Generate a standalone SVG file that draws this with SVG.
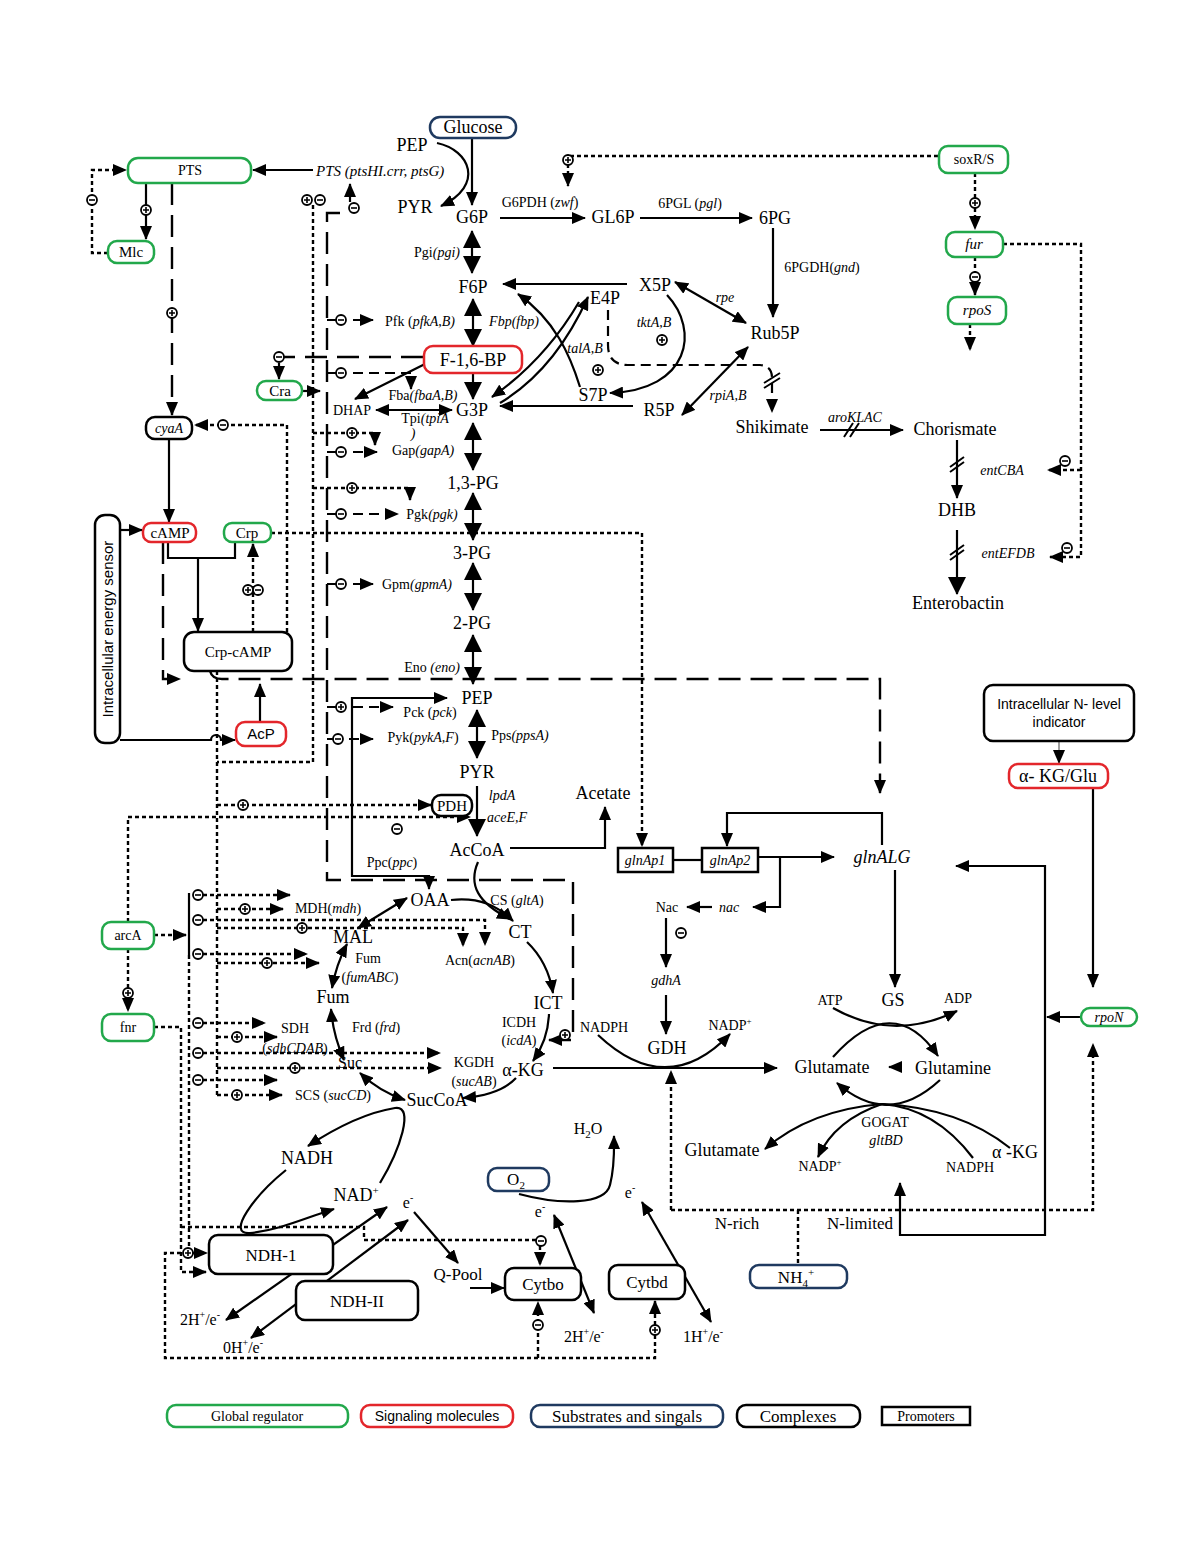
<svg xmlns="http://www.w3.org/2000/svg" xmlns:xlink="http://www.w3.org/1999/xlink" width="1200" height="1553" viewBox="0 0 1200 1553">
<style>
.l{fill:none;stroke:#000;stroke-width:2.2}
.ld{stroke-dasharray:22 10;stroke-width:2.4}
.lm{stroke-dasharray:10 6}
.lo{stroke-dasharray:4 3;stroke-width:2.4}
.ea{marker-end:url(#a)}
.sa{marker-start:url(#a)}
.eb{marker-end:url(#b)}
.sb{marker-start:url(#b)}
text{font-family:"Liberation Serif","Times New Roman",serif;fill:#000}
.t{font-size:18px;text-anchor:middle}
.s{font-size:14px;text-anchor:middle}
.i{font-style:italic}
.ss{font-family:"Liberation Sans",Arial,sans-serif}
.bg{fill:#fff;stroke:#22a84b;stroke-width:2.5}
.br{fill:#fff;stroke:#e3262b;stroke-width:2.5}
.bn{fill:#fff;stroke:#1f3a60;stroke-width:2.5}
.bk{fill:#fff;stroke:#000;stroke-width:2.5}
.slash{stroke:#000;stroke-width:2;fill:none}
</style>
<defs>
<marker id="a" viewBox="0 0 14 12" refX="13" refY="6" markerWidth="14" markerHeight="12" markerUnits="userSpaceOnUse" orient="auto-start-reverse"><path d="M0,0L14,6L0,12z" fill="#000"/></marker>
<marker id="b" viewBox="0 0 18 18" refX="17" refY="9" markerWidth="18" markerHeight="18" markerUnits="userSpaceOnUse" orient="auto-start-reverse"><path d="M0,0L18,9L0,18z" fill="#000"/></marker>
<g id="pl"><circle r="5" fill="#fff" stroke="#000" stroke-width="1.8"/><path d="M-3,0H3M0,-3V3" stroke="#000" stroke-width="1.6"/></g>
<g id="mi"><circle r="5" fill="#fff" stroke="#000" stroke-width="1.8"/><path d="M-3,0H3" stroke="#000" stroke-width="1.6"/></g>
</defs>
<rect width="1200" height="1553" fill="#fff"/>

<g id="connectors">
<!-- solid -->
<path class="l ea" d="M472,138V205"/>
<path class="l ea" d="M437,143C470,150 485,185 441,206"/>
<path class="l ea" d="M500,218H585"/>
<path class="l ea" d="M640,218H752"/>
<path class="l ea" d="M773,228V317"/>
<path class="l eb sb" d="M472,231V273"/>
<path class="l ea" d="M627,284H503"/>
<path class="l eb sb" d="M473,299V346"/>
<path class="l eb" d="M473,373V399"/>
<path class="l ea" d="M427,363L355,399"/>
<path class="l ea sa" d="M376,410H452"/>
<path class="l eb sb" d="M473,423V470"/>
<path class="l eb sb" d="M473,493V540"/>
<path class="l eb sb" d="M473,563V610"/>
<path class="l eb sb" d="M473,635V684"/>
<path class="l eb sb" d="M477,710V758"/>
<path class="l eb" d="M477,786V836"/>
<path class="l ea" d="M510,848H605V807"/>
<path class="l ea" d="M633,406H500"/>
<path class="l ea" d="M580,387C570,355 555,320 518,294"/>
<path class="l ea" d="M500,403Q555,370 588,297"/>
<path class="l ea" d="M579,302Q545,360 492,397"/>
<path class="l ea" d="M667,295C700,330 690,390 610,393"/>
<path class="l ea sa" d="M675,282L746,323"/>
<path class="l ea sa" d="M682,415L748,347"/>
<path class="l lm ea" d="M608,310V345Q608,365 628,365H760Q772,366 772,378V412"/>
<path class="l ea" d="M820,430H903"/>
<path class="l ea" d="M957,440V498"/>
<path class="l eb" d="M957,530V594"/>
<path class="slash" d="M844,437L853,423M850,437L859,423M950,467L964,457M950,472L964,462M950,555L964,545M950,560L964,550M764,383L780,373M764,388L780,378"/>
<path class="l ea" d="M313,170H253"/>
<path class="l ea" d="M146,183V239"/>
<path class="l ea" d="M169,439V522"/>
<path class="l ea" d="M120,530H142"/>
<path class="l" d="M168,542V558H235V542"/>
<path class="l ea" d="M198,558V631"/>
<path class="l ea" d="M260,722V684"/>
<path class="l ea" d="M120,740H211A5,5 0 0 1 221,740H235"/>
<path class="l ea sa" d="M447,698H352V876H429V889"/>
<path class="l ea" d="M478,862C468,885 478,903 510,919"/>
<path class="l ea" d="M451,900C480,897 498,906 513,921"/>
<path class="l ea sa" d="M407,898L358,928"/>
<path class="l ea sa" d="M347,944Q336,965 332,988"/>
<path class="l ea sa" d="M331,1009Q333,1035 344,1060"/>
<path class="l ea sa" d="M360,1073Q380,1092 405,1100"/>
<path class="l ea" d="M516,1078Q500,1095 463,1098"/>
<path class="l ea" d="M549,1014Q548,1040 533,1061"/>
<path class="l ea" d="M527,942Q548,962 553,993"/>
<path class="l ea" d="M553,1068H777"/>
<path class="l" d="M673,860H701"/>
<path class="l ea" d="M758,857H834"/>
<path class="l ea" d="M882,845V813H727V846"/>
<path class="l ea" d="M780,857V907H753"/>
<path class="l ea" d="M712,907H687"/>
<path class="l ea" d="M666,918V967"/>
<path class="l ea" d="M666,995V1034"/>
<path class="l ea" d="M598,1035Q667,1100 730,1034"/>
<path class="l ea" d="M895,870V987"/>
<path class="l ea" d="M833,1008Q893,1042 957,1011"/>
<path class="l ea" d="M833,1057Q893,990 938,1056"/>
<path class="l ea" d="M902,1067H889"/>
<path class="l ea" d="M940,1080Q888,1128 837,1083"/>
<path class="l ea" d="M882,1104Q810,1110 765,1149"/>
<path class="l ea" d="M882,1104Q835,1120 818,1157"/>
<path class="l" d="M973,1158Q935,1108 882,1104"/>
<path class="l" d="M1010,1148Q960,1108 882,1104"/>
<path class="l ea" d="M1080,1017H1047"/>
<path class="l ea sa" d="M956,866H1045V1235H900V1183"/>
<path class="l ea" d="M1093,788V987"/>
<path d="M1059,742V763" stroke="#777" stroke-width="1.4" fill="none" marker-end="url(#a)"/>
<path class="l ea" d="M380,1183C400,1150 415,1105 395,1108C370,1112 340,1125 308,1146"/>
<path class="l ea" d="M286,1170C255,1195 225,1235 250,1233C280,1230 305,1218 334,1209"/>
<path class="l ea sa" d="M226,1320L387,1207"/>
<path class="l ea sa" d="M251,1338L408,1220"/>
<path class="l ea" d="M414,1212L458,1263"/>
<path class="l ea" d="M470,1288H504"/>
<path class="l ea" d="M519,1194C560,1205 605,1205 610,1185C615,1165 614,1150 614,1136"/>
<path class="l ea sa" d="M554,1215L594,1313"/>
<path class="l ea sa" d="M642,1202L711,1322"/>
<path class="l" d="M189,893V955"/>
<path class="l ea" d="M303,391H320"/>
<path class="l ea" d="M279,363V379"/>
<path class="l ea" d="M350,202V184"/>
<!-- long dashed -->
<path class="l ld ea" d="M172,183V415"/>
<path class="l ld ea" d="M340,213H327V880H573V1040H549"/>
<path class="l ld ea" d="M163,542V679H180"/>
<path class="l ld ea" d="M210,671Q212,679 222,679H880V793"/>
<path class="l ld" d="M423,357H284"/>
<!-- glycolysis regulation stubs -->
<path class="l" d="M327,320H336M327,373H336M327,452H336M327,514H336M327,584H336M327,707H336M327,739H333"/>
<path class="l lm ea" d="M353,320H373"/>
<path class="l lm ea" d="M353,373H411V389"/>
<path class="l lm ea" d="M353,452H377"/>
<path class="l lm ea" d="M353,514H398"/>
<path class="l lm ea" d="M353,584H373"/>
<path class="l lm ea" d="M353,707H393"/>
<path class="l lm ea" d="M349,739H373"/>
<!-- dotted -->
<path class="l lo ea" d="M938,156H568V186"/>
<path class="l lo ea" d="M975,173V229"/>
<path class="l lo ea" d="M975,257V295"/>
<path class="l lo ea" d="M970,324V350"/>
<path class="l lo ea" d="M1003,244H1081V557H1050"/>
<path class="l lo ea" d="M1081,470H1048"/>
<path class="l lo ea" d="M108,253H92V170H126"/>
<path class="l lo" d="M313,205V762H217"/>
<path class="l lo ea" d="M313,433H375V445"/>
<path class="l lo ea" d="M313,488H410V500"/>
<path class="l lo ea" d="M287,632V425H195"/>
<path class="l lo ea" d="M253,632V544"/>
<path class="l lo ea" d="M271,533H642V846"/>
<path class="l lo" d="M217,671V1095"/>
<path class="l lo ea" d="M217,805H431"/>
<path class="l lo ea" d="M217,909H283"/>
<path class="l lo ea" d="M217,928H463V946"/>
<path class="l lo ea" d="M217,963H319"/>
<path class="l lo ea" d="M217,1037H277"/>
<path class="l lo ea" d="M217,1068H441"/>
<path class="l lo ea" d="M217,1095H282"/>
<path class="l lo ea" d="M154,935H186"/>
<path class="l lo" d="M189,955V1253"/>
<path class="l lo ea" d="M203,895H290"/>
<path class="l lo ea" d="M203,920H485V945"/>
<path class="l lo ea" d="M203,954H307"/>
<path class="l lo ea" d="M203,1023H265"/>
<path class="l lo ea" d="M203,1053H440"/>
<path class="l lo ea" d="M203,1080H277"/>
<path class="l lo ea" d="M128,922V817H470"/>
<path class="l lo ea" d="M128,949V1011"/>
<path class="l lo ea" d="M154,1027H181V1272H206"/>
<path class="l lo ea" d="M181,1227H364V1240H540V1265"/>
<path class="l lo ea" d="M193,1253H207"/>
<path class="l lo ea" d="M188,1253H165V1358H655V1301"/>
<path class="l lo ea" d="M538,1358V1302"/>
<path class="l lo ea" d="M671,1210V1071"/>
<path class="l lo ea" d="M671,1210H1093V1044"/>
<path class="l lo" d="M798,1210V1265"/>
<!-- + / - symbols -->
<use href="#pl" x="172" y="313"/>
<use href="#pl" x="146" y="210"/>
<use href="#mi" x="92" y="200"/>
<use href="#pl" x="307" y="200"/>
<use href="#mi" x="320" y="200"/>
<use href="#mi" x="354" y="208"/>
<use href="#mi" x="279" y="357"/>
<use href="#mi" x="223" y="425"/>
<use href="#pl" x="248" y="590"/>
<use href="#mi" x="258" y="590"/>
<use href="#mi" x="341" y="320"/>
<use href="#mi" x="341" y="373"/>
<use href="#mi" x="341" y="452"/>
<use href="#mi" x="341" y="514"/>
<use href="#mi" x="341" y="584"/>
<use href="#pl" x="341" y="707"/>
<use href="#mi" x="338" y="739"/>
<use href="#pl" x="352" y="433"/>
<use href="#pl" x="352" y="488"/>
<use href="#pl" x="568" y="160"/>
<use href="#pl" x="975" y="203"/>
<use href="#mi" x="975" y="277"/>
<use href="#mi" x="1065" y="461"/>
<use href="#mi" x="1067" y="548"/>
<use href="#pl" x="662" y="340"/>
<use href="#pl" x="598" y="370"/>
<use href="#pl" x="243" y="805"/>
<use href="#mi" x="397" y="829"/>
<use href="#pl" x="245" y="909"/>
<use href="#pl" x="302" y="928"/>
<use href="#pl" x="267" y="963"/>
<use href="#pl" x="237" y="1037"/>
<use href="#pl" x="295" y="1068"/>
<use href="#pl" x="237" y="1095"/>
<use href="#mi" x="198" y="895"/>
<use href="#mi" x="198" y="920"/>
<use href="#mi" x="198" y="954"/>
<use href="#mi" x="198" y="1023"/>
<use href="#mi" x="198" y="1053"/>
<use href="#mi" x="198" y="1080"/>
<use href="#pl" x="128" y="993"/>
<use href="#pl" x="565" y="1035"/>
<use href="#mi" x="681" y="933"/>
<use href="#mi" x="541" y="1241"/>
<use href="#pl" x="188" y="1253"/>
<use href="#mi" x="538" y="1325"/>
<use href="#pl" x="655" y="1330"/>
</g>

<g id="edge-labels">
<text class="s i" x="316" y="176" style="text-anchor:start;font-size:15px">PTS (ptsHI.crr, ptsG)</text>
<text class="s" x="540" y="207">G6PDH (<tspan class="i">zwf</tspan>)</text>
<text class="s" x="690" y="208">6PGL (<tspan class="i">pgl</tspan>)</text>
<text class="s" x="822" y="272">6PGDH(<tspan class="i">gnd</tspan>)</text>
<text class="s" x="437" y="257">Pgi<tspan class="i">(pgi)</tspan></text>
<text class="s" x="420" y="326">Pfk (<tspan class="i">pfkA,B)</tspan></text>
<text class="s i" x="514" y="326">Fbp(fbp)</text>
<text class="s i" x="585" y="353">talA,B</text>
<text class="s i" x="654" y="327">tktA,B</text>
<text class="s i" x="725" y="302">rpe</text>
<text class="s i" x="728" y="400">rpiA,B</text>
<text class="s" x="423" y="400">Fba<tspan class="i">(fbaA,B)</tspan></text>
<text class="s" x="425" y="423">Tpi<tspan class="i">(tpiA</tspan></text>
<text class="s i" x="413" y="438">)</text>
<text class="s" x="423" y="455">Gap<tspan class="i">(gapA)</tspan></text>
<text class="s i" x="855" y="422">aroKLAC</text>
<text class="s i" x="1002" y="475">entCBA</text>
<text class="s i" x="1008" y="558">entEFDB</text>
<text class="s" x="432" y="519">Pgk<tspan class="i">(pgk)</tspan></text>
<text class="s" x="417" y="589">Gpm<tspan class="i">(gpmA)</tspan></text>
<text class="s" x="432" y="672">Eno <tspan class="i">(eno)</tspan></text>
<text class="s" x="430" y="717">Pck (<tspan class="i">pck</tspan>)</text>
<text class="s" x="423" y="742">Pyk(<tspan class="i">pykA,F</tspan>)</text>
<text class="s" x="520" y="740">Pps<tspan class="i">(ppsA)</tspan></text>
<text class="s i" x="502" y="800">lpdA</text>
<text class="s i" x="507" y="822">aceE,F</text>
<text class="s" x="392" y="867">Ppc(<tspan class="i">ppc</tspan>)</text>
<text class="s" x="328" y="913">MDH(<tspan class="i">mdh</tspan>)</text>
<text class="s" x="517" y="905">CS (<tspan class="i">gltA</tspan>)</text>
<text class="s" x="480" y="965">Acn(<tspan class="i">acnAB</tspan>)</text>
<text class="s" x="368" y="963">Fum</text>
<text class="s" x="370" y="982">(<tspan class="i">fumABC</tspan>)</text>
<text class="s" x="295" y="1033">SDH</text>
<text class="s" x="295" y="1053">(<tspan class="i">sdhCDAB</tspan>)</text>
<text class="s" x="376" y="1032">Frd (<tspan class="i">frd</tspan>)</text>
<text class="s" x="519" y="1027">ICDH</text>
<text class="s" x="519" y="1045">(<tspan class="i">icdA</tspan>)</text>
<text class="s" x="474" y="1067">KGDH</text>
<text class="s" x="474" y="1086">(<tspan class="i">sucAB</tspan>)</text>
<text class="s" x="333" y="1100">SCS (<tspan class="i">sucCD</tspan>)</text>
<text class="s i" x="729" y="912">nac</text>
<text class="s i" x="666" y="985">gdhA</text>
<text class="s" x="604" y="1032">NADPH</text>
<text class="s" x="730" y="1030">NADP<tspan dy="-6" font-size="9">+</tspan></text>
<text class="s" x="830" y="1005">ATP</text>
<text class="s" x="958" y="1003">ADP</text>
<text class="s" x="885" y="1127">GOGAT</text>
<text class="s i" x="886" y="1145">gltBD</text>
<text class="s" x="820" y="1171">NADP<tspan dy="-6" font-size="9">+</tspan></text>
<text class="s" x="970" y="1172">NADPH</text>
<text class="t" x="737" y="1229" style="font-size:17px">N-rich</text>
<text class="t" x="860" y="1229" style="font-size:17px">N-limited</text>
</g>

<g id="metabolites">
<g id="n-PEP1"><text class="t" x="412" y="151">PEP</text></g>
<g id="n-PYR1"><text class="t" x="415" y="213">PYR</text></g>
<g id="n-G6P"><text class="t" x="472" y="223">G6P</text></g>
<g id="n-GL6P"><text class="t" x="613" y="223">GL6P</text></g>
<g id="n-6PG"><text class="t" x="775" y="224">6PG</text></g>
<g id="n-F6P"><text class="t" x="473" y="293">F6P</text></g>
<g id="n-X5P"><text class="t" x="655" y="291">X5P</text></g>
<g id="n-E4P"><text class="t" x="605" y="304">E4P</text></g>
<g id="n-Rub5P"><text class="t" x="775" y="339">Rub5P</text></g>
<g id="n-G3P"><text class="t" x="472" y="416">G3P</text></g>
<g id="n-DHAP"><text class="s" x="352" y="415">DHAP</text></g>
<g id="n-S7P"><text class="t" x="593" y="401">S7P</text></g>
<g id="n-R5P"><text class="t" x="659" y="416">R5P</text></g>
<g id="n-Shikimate"><text class="t" x="772" y="433">Shikimate</text></g>
<g id="n-Chorismate"><text class="t" x="955" y="435">Chorismate</text></g>
<g id="n-DHB"><text class="t" x="957" y="516">DHB</text></g>
<g id="n-Enterobactin"><text class="t" x="958" y="609">Enterobactin</text></g>
<g id="n-13PG"><text class="t" x="473" y="489">1,3-PG</text></g>
<g id="n-3PG"><text class="t" x="472" y="559">3-PG</text></g>
<g id="n-2PG"><text class="t" x="472" y="629">2-PG</text></g>
<g id="n-PEP"><text class="t" x="477" y="704">PEP</text></g>
<g id="n-PYR"><text class="t" x="477" y="778">PYR</text></g>
<g id="n-Acetate"><text class="t" x="603" y="799">Acetate</text></g>
<g id="n-AcCoA"><text class="t" x="477" y="856">AcCoA</text></g>
<g id="n-OAA"><text class="t" x="430" y="906">OAA</text></g>
<g id="n-CT"><text class="t" x="520" y="938">CT</text></g>
<g id="n-MAL"><text class="t" x="353" y="943">MAL</text></g>
<g id="n-Fum"><text class="t" x="333" y="1003">Fum</text></g>
<g id="n-ICT"><text class="t" x="548" y="1009">ICT</text></g>
<g id="n-aKG"><text class="t" x="523" y="1076">α-KG</text></g>
<g id="n-Suc"><text class="t" x="350" y="1068" style="font-size:16px">Suc</text></g>
<g id="n-SucCoA"><text class="t" x="437" y="1106">SucCoA</text></g>
<g id="n-glnALG"><text class="t i" x="882" y="863">glnALG</text></g>
<g id="n-Nac"><text class="s" x="667" y="912">Nac</text></g>
<g id="n-GS"><text class="t" x="893" y="1006">GS</text></g>
<g id="n-GDH"><text class="t" x="667" y="1054">GDH</text></g>
<g id="n-Glutamate"><text class="t" x="832" y="1073">Glutamate</text></g>
<g id="n-Glutamine"><text class="t" x="953" y="1074">Glutamine</text></g>
<g id="n-Glutamate2"><text class="t" x="722" y="1156">Glutamate</text></g>
<g id="n-aKG2"><text class="t" x="1015" y="1158">α -KG</text></g>
<g id="n-NADH"><text class="t" x="307" y="1164">NADH</text></g>
<g id="n-NAD"><text class="t" x="356" y="1201">NAD<tspan dy="-7" font-size="11">+</tspan></text></g>
<g id="n-e1"><text class="t" x="408" y="1208" style="font-size:16px">e<tspan dy="-7" font-size="10">-</tspan></text></g>
<g id="n-e2"><text class="t" x="540" y="1217" style="font-size:16px">e<tspan dy="-7" font-size="10">-</tspan></text></g>
<g id="n-e3"><text class="t" x="630" y="1198" style="font-size:16px">e<tspan dy="-7" font-size="10">-</tspan></text></g>
<g id="n-QPool"><text class="t" x="458" y="1280" style="font-size:17px">Q-Pool</text></g>
<g id="n-H2O"><text class="t" x="588" y="1134" style="font-size:16px">H<tspan dy="4" font-size="11">2</tspan><tspan dy="-4">O</tspan></text></g>
<g id="n-2H1"><text class="t" x="200" y="1325" style="font-size:16px">2H<tspan dy="-7" font-size="10">+</tspan><tspan dy="7">/e</tspan><tspan dy="-7" font-size="10">-</tspan></text></g>
<g id="n-0H"><text class="t" x="243" y="1353" style="font-size:16px">0H<tspan dy="-7" font-size="10">+</tspan><tspan dy="7">/e</tspan><tspan dy="-7" font-size="10">-</tspan></text></g>
<g id="n-2H2"><text class="t" x="584" y="1342" style="font-size:16px">2H<tspan dy="-7" font-size="10">+</tspan><tspan dy="7">/e</tspan><tspan dy="-7" font-size="10">-</tspan></text></g>
<g id="n-1H"><text class="t" x="703" y="1342" style="font-size:16px">1H<tspan dy="-7" font-size="10">+</tspan><tspan dy="7">/e</tspan><tspan dy="-7" font-size="10">-</tspan></text></g>
</g>

<g id="n-Glucose"><rect class="bn" x="430" y="117" width="86" height="21" rx="10"/><text class="t" x="473" y="133">Glucose</text></g>
<g id="n-PTS"><rect class="bg" x="128" y="158" width="123" height="25" rx="10"/><text class="s" x="190" y="175">PTS</text></g>
<g id="n-Mlc"><rect class="bg" x="108" y="241" width="46" height="22" rx="9"/><text class="s" x="131" y="257" style="font-size:15px">Mlc</text></g>
<g id="n-Cra"><rect class="bg" x="257" y="381" width="45" height="19" rx="9"/><text class="s" x="280" y="396" style="font-size:15px">Cra</text></g>
<g id="n-F16BP"><rect class="br" x="424" y="346" width="98" height="27" rx="9"/><text class="t" x="473" y="366">F-1,6-BP</text></g>
<g id="n-cyaA"><rect class="bk" x="146" y="417" width="46" height="22" rx="9"/><text class="s i" x="169" y="433">cyaA</text></g>
<g id="n-sensor"><rect class="bk" x="95" y="515" width="25" height="228" rx="10"/><text class="ss" x="113" y="629" transform="rotate(-90 113 629)" style="font-size:15px;text-anchor:middle">Intracellular energy sensor</text></g>
<g id="n-cAMP"><rect class="br" x="143" y="523" width="53" height="19" rx="8"/><text class="s" x="170" y="538" style="font-size:15px">cAMP</text></g>
<g id="n-Crp"><rect class="bg" x="224" y="523" width="47" height="19" rx="8"/><text class="s" x="247" y="538" style="font-size:15px">Crp</text></g>
<g id="n-CrpcAMP"><rect class="bk" x="184" y="632" width="108" height="39" rx="10"/><text class="s" x="238" y="657" style="font-size:15px">Crp-cAMP</text></g>
<g id="n-AcP"><rect class="br" x="236" y="722" width="50" height="24" rx="9"/><text class="ss" x="261" y="739" style="font-size:15px;text-anchor:middle">AcP</text></g>
<g id="n-PDH"><rect class="bk" x="432" y="795" width="40" height="21" rx="9"/><text class="s" x="452" y="811" style="font-size:15px">PDH</text></g>
<g id="n-soxRS"><rect class="bg" x="939" y="146" width="69" height="27" rx="9"/><text class="s" x="974" y="164">soxR/S</text></g>
<g id="n-fur"><rect class="bg" x="946" y="232" width="57" height="25" rx="9"/><text class="s i" x="974" y="249" style="font-size:15px">fur</text></g>
<g id="n-rpoS"><rect class="bg" x="948" y="297" width="58" height="27" rx="9"/><text class="s i" x="977" y="315" style="font-size:15px">rpoS</text></g>
<g id="n-arcA"><rect class="bg" x="102" y="922" width="52" height="27" rx="9"/><text class="s" x="128" y="940">arcA</text></g>
<g id="n-fnr"><rect class="bg" x="102" y="1014" width="52" height="27" rx="9"/><text class="s" x="128" y="1032">fnr</text></g>
<g id="n-glnAp1"><rect x="618" y="848" width="55" height="24" fill="#fff" stroke="#000" stroke-width="2.5"/><text class="s i" x="645" y="865">glnAp1</text></g>
<g id="n-glnAp2"><rect x="702" y="848" width="56" height="24" fill="#fff" stroke="#000" stroke-width="2.5"/><text class="s i" x="730" y="865">glnAp2</text></g>
<g id="n-Nlevel"><rect class="bk" x="984" y="685" width="150" height="56" rx="9"/><text class="ss" x="1059" y="709" style="font-size:14px;text-anchor:middle">Intracellular N- level</text><text class="ss" x="1059" y="727" style="font-size:14px;text-anchor:middle">indicator</text></g>
<g id="n-aKGGlu"><rect class="br" x="1009" y="764" width="99" height="24" rx="9"/><text class="t" x="1058" y="782">α- KG/Glu</text></g>
<g id="n-rpoN"><rect class="bg" x="1081" y="1008" width="56" height="18" rx="9"/><text class="s i" x="1109" y="1022">rpoN</text></g>
<g id="n-NH4"><rect class="bn" x="750" y="1265" width="97" height="23" rx="9"/><text class="t" x="796" y="1283" style="font-size:17px">NH<tspan dy="4" font-size="11">4</tspan><tspan dy="-11" font-size="11">+</tspan></text></g>
<g id="n-O2"><rect class="bn" x="488" y="1168" width="61" height="23" rx="9"/><text class="t" x="516" y="1185" style="font-size:17px">O<tspan dy="4" font-size="11">2</tspan></text></g>
<g id="n-NDH1"><rect class="bk" x="209" y="1235" width="124" height="39" rx="9"/><text class="t" x="271" y="1261" style="font-size:17px">NDH-1</text></g>
<g id="n-NDH2"><rect class="bk" x="296" y="1281" width="122" height="39" rx="9"/><text class="t" x="357" y="1307" style="font-size:17px">NDH-II</text></g>
<g id="n-Cytbo"><rect class="bk" x="505" y="1268" width="76" height="32" rx="9"/><text class="t" x="543" y="1290" style="font-size:17px">Cytbo</text></g>
<g id="n-Cytbd"><rect class="bk" x="609" y="1265" width="76" height="34" rx="9"/><text class="t" x="647" y="1288" style="font-size:17px">Cytbd</text></g>

<g id="legend">
<rect class="bg" x="167" y="1405" width="181" height="22" rx="9"/><text class="s" x="257" y="1421">Global regulator</text>
<rect class="br" x="361" y="1405" width="152" height="22" rx="9"/><text class="ss" x="437" y="1421" style="font-size:14px;text-anchor:middle">Signaling molecules</text>
<rect class="bn" x="531" y="1405" width="192" height="22" rx="9"/><text class="t" x="627" y="1422" style="font-size:17px">Substrates and singals</text>
<rect class="bk" x="737" y="1405" width="123" height="22" rx="9"/><text class="t" x="798" y="1422" style="font-size:17px">Complexes</text>
<rect x="882" y="1407" width="88" height="18" fill="#fff" stroke="#000" stroke-width="2.5"/><text class="s" x="926" y="1421">Promoters</text>
</g>
</svg>
